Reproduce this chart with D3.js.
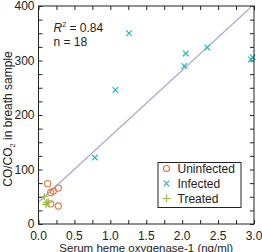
<!DOCTYPE html>
<html>
<head>
<meta charset="utf-8">
<script src="https://cdn.jsdelivr.net/npm/d3@7"></script>
<style>
  body { margin: 0; background: #fff; }
  text { font-family: "Liberation Sans", Arial, sans-serif; fill: #222; }
</style>
</head>
<body>
<div id="chart"></div>
<script>
///data
var uninfectedX = [0.127, 0.17, 0.206, 0.275, 0.17, 0.275];
var uninfectedY = [74, 57.5, 60.5, 66, 37, 33];
var infectedX = [0.785, 1.07, 1.26, 2.03, 2.05, 2.35, 2.96, 2.98];
var infectedY = [122, 246, 350, 290, 313, 324, 302, 306];
var treatedX = [0.08, 0.114, 0.136, 0.104];
var treatedY = [50, 39, 40, 36];
var fitLine = [40, 121]; // intercept, slope
var xTicks = [0, 0.5, 1.0, 1.5, 2.0, 2.5, 3.0];
var yTicks = [0, 100, 200, 300, 400];
var legendNames = ['Uninfected', 'Infected', 'Treated'];

var width = 262, height = 252;
var margin = {top: 6, right: 8, bottom: 28, left: 38.5};

var colors = {Uninfected: '#e0743f', Infected: '#2cb5c6', Treated: '#94bf3c'};

var x = d3.scaleLinear().domain([0, 3]).range([margin.left, width - margin.right]);
var y = d3.scaleLinear().domain([0, 400]).range([height - margin.bottom, margin.top]);

var svg = d3.select('#chart').append('svg')
    .attr('width', width)
    .attr('height', height);

svg.append('clipPath').attr('id', 'clip')
  .append('rect')
    .attr('x', x(0)).attr('y', y(400))
    .attr('width', x(3) - x(0)).attr('height', y(0) - y(400));

///axes with inward ticks
var minorX = d3.range(0, 3.01, 0.25);
var minorY = d3.range(0, 401, 25);

svg.append('g')
    .attr('transform', `translate(0,${y(0)})`)
    .call(d3.axisBottom(x).tickValues(minorX).tickSizeInner(-4).tickSizeOuter(0).tickFormat(''))
    .call(g => g.select('.domain').remove());
svg.append('g')
    .attr('transform', `translate(0,${y(400)})`)
    .call(d3.axisTop(x).tickValues(minorX).tickSizeInner(-4).tickSizeOuter(0).tickFormat(''))
    .call(g => g.select('.domain').remove());
svg.append('g')
    .attr('transform', `translate(${x(0)},0)`)
    .call(d3.axisLeft(y).tickValues(minorY).tickSizeInner(-4).tickSizeOuter(0).tickFormat(''))
    .call(g => g.select('.domain').remove());
svg.append('g')
    .attr('transform', `translate(${x(3)},0)`)
    .call(d3.axisRight(y).tickValues(minorY).tickSizeInner(-4).tickSizeOuter(0).tickFormat(''))
    .call(g => g.select('.domain').remove());

svg.selectAll('.tick line').attr('stroke', '#222');

// tick labels
svg.append('g').selectAll('text')
    .data(xTicks)
  .enter().append('text')
    .attr('x', d => x(d))
    .attr('y', y(0) + 16)
    .attr('text-anchor', 'middle')
    .style('font-size', '12px')
    .text(d => d3.format('.1f')(d));

svg.append('g').selectAll('text')
    .data(yTicks)
  .enter().append('text')
    .attr('x', x(0) - 4)
    .attr('y', d => y(d) + 4)
    .attr('text-anchor', 'end')
    .style('font-size', '12px')
    .text(d => d);

///fit line
svg.append('line')
    .attr('clip-path', 'url(#clip)')
    .attr('x1', x(0)).attr('y1', y(fitLine[0]))
    .attr('x2', x(3)).attr('y2', y(fitLine[0] + fitLine[1] * 3))
    .attr('stroke', '#a6a6da')
    .attr('stroke-width', 1.2);

///markers
function cross(h) {
  return `M${-h},0H${h}M0,${-h}V${h}`;
}
function xmark(h) {
  return `M${-h},${-h}L${h},${h}M${-h},${h}L${h},${-h}`;
}

svg.append('g').selectAll('circle')
    .data(d3.zip(uninfectedX, uninfectedY))
  .enter().append('circle')
    .attr('cx', d => x(d[0]))
    .attr('cy', d => y(d[1]))
    .attr('r', 3.1)
    .attr('fill', 'none')
    .attr('stroke', colors.Uninfected)
    .attr('stroke-width', 1.1);

svg.append('g').selectAll('path')
    .data(d3.zip(infectedX, infectedY))
  .enter().append('path')
    .attr('transform', d => `translate(${x(d[0])},${y(d[1])})`)
    .attr('d', xmark(2.8))
    .attr('stroke', colors.Infected)
    .attr('stroke-width', 1.2);

svg.append('g').selectAll('path')
    .data(d3.zip(treatedX, treatedY))
  .enter().append('path')
    .attr('transform', d => `translate(${x(d[0])},${y(d[1])})`)
    .attr('d', cross(3.8))
    .attr('stroke', colors.Treated)
    .attr('stroke-width', 1.2);

///frame
svg.append('rect')
    .attr('x', x(0)).attr('y', y(400))
    .attr('width', x(3) - x(0)).attr('height', y(0) - y(400))
    .attr('fill', 'none')
    .attr('stroke', '#222')
    .attr('stroke-width', 1);

///annotation
var ann = svg.append('text')
    .attr('x', x(0) + 15)
    .attr('y', y(400) + 26)
    .style('font-size', '12px');
ann.append('tspan').style('font-style', 'italic').text('R');
ann.append('tspan').attr('dy', -5).style('font-size', '7px').text('2');
ann.append('tspan').attr('dy', 5).text(' = 0.84');

svg.append('text')
    .attr('x', x(0) + 15)
    .attr('y', y(400) + 40)
    .style('font-size', '12px')
    .text('n = 18');

///legend
var legend = svg.append('g').attr('transform', 'translate(158,162.5)');
legend.append('rect')
    .attr('width', 83).attr('height', 45)
    .attr('fill', '#fff')
    .attr('stroke', '#222')
    .attr('stroke-width', 1);

var item = legend.selectAll('g.item')
    .data(legendNames)
  .enter().append('g')
    .attr('class', 'item')
    .attr('transform', (d, i) => `translate(0,${6 + i * 15})`);

item.each(function(d) {
  var g = d3.select(this);
  if (d === 'Uninfected') {
    g.append('circle').attr('cx', 8.5).attr('cy', 0).attr('r', 3)
      .attr('fill', 'none').attr('stroke', colors[d]).attr('stroke-width', 1.1);
  } else {
    g.append('path').attr('transform', 'translate(8.5,0)')
      .attr('d', d === 'Infected' ? xmark(2.8) : cross(3.8))
      .attr('stroke', colors[d]).attr('stroke-width', 1.2);
  }
});

item.append('text')
    .attr('x', 19.5)
    .attr('y', 4.5)
    .style('font-size', '12px')
    .text(d => d);

///axis titles
svg.append('text')
    .attr('x', (x(0) + x(3)) / 2)
    .attr('y', height - 0.5)
    .attr('text-anchor', 'middle')
    .style('font-size', '11.5px')
    .text('Serum heme oxygenase-1 (ng/ml)');

var yt = svg.append('text')
    .attr('transform', `translate(12,${(y(0) + y(400)) / 2 + 4}) rotate(-90)`)
    .attr('text-anchor', 'middle')
    .style('font-size', '12px');
yt.append('tspan').text('CO/CO');
yt.append('tspan').attr('dy', 3).style('font-size', '7.5px').text('2');
yt.append('tspan').attr('dy', -3).text(' in breath sample');
</script>
</body>
</html>
